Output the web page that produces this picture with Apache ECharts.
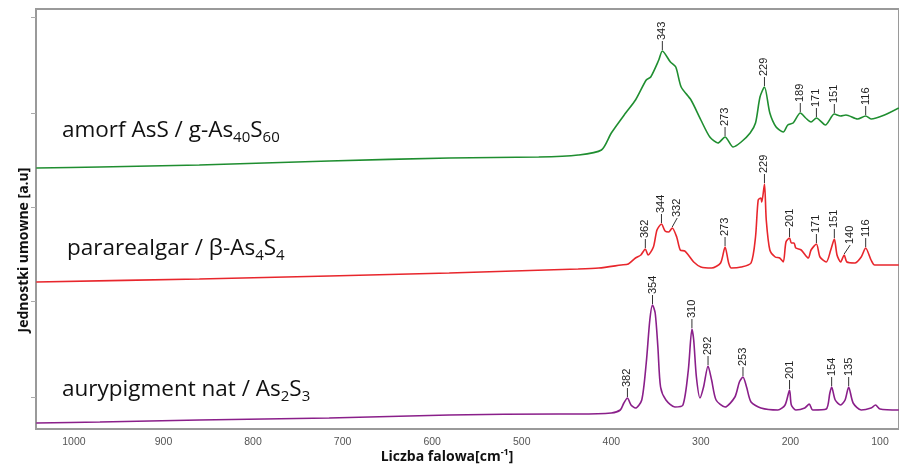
<!DOCTYPE html>
<html><head><meta charset="utf-8">
<script src="https://cdn.jsdelivr.net/npm/echarts@6/dist/echarts.min.js"></script>
<style>html,body{margin:0;padding:0;background:#fff}#c{width:899px;height:465px}</style>
</head><body><div id="c"></div>
<script>
// Raman shift [cm-1] ticks
const xTicks = [1000, 900, 800, 700, 600, 500, 400, 300, 200, 100];
const yTicks = [32, 128, 222, 316, 412];

// amorf AsS / g-As40S60  (wavenumber, intensity a.u.)
const amorfX = [1042, 971, 860, 715, 581, 481, 437, 411, 400, 384, 373, 361, 356, 347, 343, 334, 328, 322, 311, 300, 290, 281, 273, 264, 255, 245, 239, 234, 229, 223, 216, 208, 203, 197, 189, 183, 177, 171, 161, 151, 144, 138, 125, 116, 110, 95, 79];
const amorfY = [261, 262, 264, 268, 271, 272, 274, 279, 296, 316, 329, 349, 352, 369, 378, 367, 362, 342, 329, 309, 292, 286, 292, 282, 287, 296, 306, 332, 342, 316, 302, 297, 304, 306, 316, 311, 307, 311, 304, 315, 313, 314, 310, 313, 310, 314, 321];

// pararealgar / beta-As4S4
const pararX = [1042, 860, 715, 581, 437, 414, 389, 381, 373, 367, 362, 359, 353, 349, 344, 340, 336, 332, 327, 323, 318, 314, 308, 300, 288, 278, 273, 269, 266, 255, 244, 239, 236, 233, 232, 229, 227, 223, 217, 212, 208, 205, 201, 199, 196, 194, 188, 180, 177, 171, 167, 160, 155, 151, 148, 144, 140, 137, 128, 121, 116, 110, 106, 79];
const pararY = [147, 150, 153, 156, 160, 161, 164, 165, 171, 174, 180, 174, 182, 199, 205, 198, 197, 201, 192, 179, 178, 174, 167, 162, 161, 166, 182, 166, 161, 162, 166, 192, 229, 231, 227, 245, 209, 179, 172, 171, 167, 187, 191, 186, 186, 181, 179, 171, 179, 185, 172, 167, 179, 190, 174, 167, 174, 167, 166, 172, 181, 169, 164, 164];

// aurypigment nat / As2S3
const auryX = [1042, 971, 860, 715, 581, 459, 437, 400, 390, 386, 382, 378, 373, 366, 361, 357, 354, 351, 348, 345, 339, 329, 320, 314, 310, 308, 305, 301, 297, 292, 288, 283, 273, 262, 257, 253, 249, 244, 233, 214, 206, 201, 199, 194, 184, 179, 175, 160, 156, 154, 150, 144, 139, 135, 130, 121, 110, 105, 100, 79];
const auryY = [6, 7, 9, 11, 14, 15, 15, 16, 19, 26, 31, 24, 21, 29, 66, 109, 124, 116, 82, 42, 29, 22, 24, 59, 100, 89, 52, 31, 42, 63, 49, 29, 22, 32, 47, 52, 42, 27, 21, 19, 24, 39, 24, 19, 21, 25, 19, 20, 36, 42, 29, 24, 29, 42, 26, 19, 21, 24, 20, 19];

// peak annotations
const amorfPeaks = [343, 273, 229, 189, 171, 151, 116];
const pararPeaks = [362, 344, 332, 273, 229, 201, 171, 151, 140, 116];
const auryPeaks = [382, 354, 310, 292, 253, 201, 154, 135];

const seriesNames = ['amorf AsS / g-As40S60', 'pararealgar / β-As4S4', 'aurypigment nat / As2S3'];
const colors = ['#1f8e30', '#e8262c', '#8a1f8a'];

function pairs(xs, ys) { return xs.map((x, i) => [x, ys[i]]); }
function peakData(peaks, xs, ys) {
  return peaks.map(p => { const i = xs.indexOf(p); return [p, ys[i], String(p)]; });
}
const shifted = { 'p332': 5, 'p140': 6 };

function labelSeries(data, key) {
  return {
    type: 'custom', silent: true, z: 5,
    data: data,
    renderItem: function (params, api) {
      const p = api.coord([api.value(0), api.value(1)]);
      const txt = data[params.dataIndex][2];
      const dx = (key === 'p' && shifted['p' + txt]) ? shifted['p' + txt] : 0;
      return {
        type: 'group',
        children: [
          { type: 'line', shape: { x1: p[0], y1: p[1] - 1, x2: p[0] + dx, y2: p[1] - 10 }, style: { stroke: '#333', lineWidth: 1 } },
          { type: 'text', x: p[0] + dx, y: p[1] - 11, rotation: Math.PI / 2,
            style: { text: txt, fontFamily: 'Liberation Sans', fontSize: 11, fill: '#222', align: 'left', verticalAlign: 'middle' } }
        ]
      };
    }
  };
}

const chart = echarts.init(document.getElementById('c'), null, { renderer: 'canvas' });
const labelFont = 'Open Sans';
const subStyle = { fontFamily: labelFont, fontSize: 15, lineHeight: 15, verticalAlign: 'bottom' };
chart.setOption({
  animation: false,
  backgroundColor: '#fff',
  grid: { left: 36, right: -2, top: 9, bottom: 36, show: true, borderColor: '#9a9a9a', borderWidth: 2, backgroundColor: 'transparent' },
  xAxis: {
    type: 'value', inverse: true, min: 78.8, max: 1042.3,
    axisLine: { show: false }, axisTick: { show: false }, splitLine: { show: false },
    axisLabel: { customValues: xTicks, formatter: v => String(v), color: '#555', fontFamily: 'Liberation Sans', fontSize: 10.5, margin: 8 }
  },
  yAxis: {
    type: 'value', min: 0, max: 420,
    axisLine: { show: false }, splitLine: { show: false },
    axisTick: { show: true, customValues: yTicks, length: 5, lineStyle: { color: '#aaa' } },
    axisLabel: { show: false }
  },
  series: [
    { name: seriesNames[0], type: 'line', data: pairs(amorfX, amorfY), showSymbol: false, smooth: 0.25, lineStyle: { color: colors[0], width: 1.6 } },
    { name: seriesNames[1], type: 'line', data: pairs(pararX, pararY), showSymbol: false, smooth: 0.25, lineStyle: { color: colors[1], width: 1.6 } },
    { name: seriesNames[2], type: 'line', data: pairs(auryX, auryY), showSymbol: false, smooth: 0.25, lineStyle: { color: colors[2], width: 1.6 } },
    labelSeries(peakData(amorfPeaks, amorfX, amorfY), 'a'),
    labelSeries(peakData(pararPeaks, pararX, pararY), 'p'),
    labelSeries(peakData(auryPeaks, auryX, auryY), 'u')
  ],
  graphic: [
    { type: 'text', x: 62, y: 145, style: { text: 'amorf AsS / g-As{s|40}S{s|60}', fontFamily: labelFont, fontSize: 22.5, fill: '#111', verticalAlign: 'bottom', lineHeight: 28, rich: { s: subStyle } } },
    { type: 'text', x: 67, y: 263, style: { text: 'pararealgar / β-As{s|4}S{s|4}', fontFamily: labelFont, fontSize: 22.5, fill: '#111', verticalAlign: 'bottom', lineHeight: 28, rich: { s: subStyle } } },
    { type: 'text', x: 62, y: 404, style: { text: 'aurypigment nat / As{s|2}S{s|3}', fontFamily: labelFont, fontSize: 22.5, fill: '#111', verticalAlign: 'bottom', lineHeight: 28, rich: { s: subStyle } } },
    { type: 'text', x: 24, y: 250, rotation: Math.PI / 2, style: { text: 'Jednostki umowne [a.u]', fontFamily: 'Open Sans', fontWeight: 'bold', fontSize: 14, fill: '#111', align: 'center', verticalAlign: 'middle' } },
    { type: 'text', x: 447, y: 466, style: { text: 'Liczba falowa[cm{t|-1}]', fontFamily: 'Open Sans', fontWeight: 'bold', fontSize: 14, fill: '#111', align: 'center', verticalAlign: 'bottom', lineHeight: 18,
      rich: { t: { fontFamily: 'Open Sans', fontWeight: 'bold', fontSize: 9, lineHeight: 18, verticalAlign: 'top' } } } }
  ]
});
</script></body></html>
